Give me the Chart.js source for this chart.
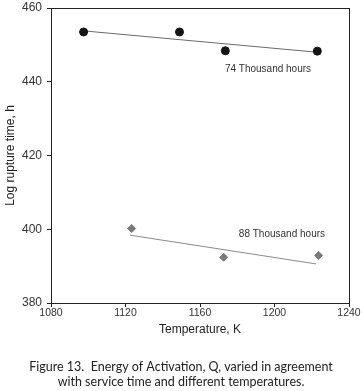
<!DOCTYPE html>
<html>
<head>
<meta charset="utf-8">
<script src="https://cdn.jsdelivr.net/npm/chart.js@4/dist/chart.umd.min.js"></script>
<style>
  html, body { margin: 0; padding: 0; background: #fff; }
  #wrap { width: 364px; height: 391px; position: relative; }
</style>
</head>
<body>
<div id="wrap"><canvas id="chart"></canvas></div>
<script>
// values
const temps74 = [1097.5, 1149, 1173.6, 1223];
const logTime74 = [453.5, 453.5, 448.4, 448.3];
const fit74X = [1097.5, 1223];
const fit74Y = [453.8, 448.0];

const temps88 = [1123.3, 1172.7, 1223.7];
const logTime88 = [400.2, 392.4, 392.9];
const fit88X = [1122.4, 1222.3];
const fit88Y = [398.4, 390.6];

const seriesLabels = ['74 Thousand hours', '88 Thousand hours'];
const labelAnchorX = [1196.5, 1204];
const labelAnchorY = [443.5, 398.7];

const xTicks = [1080, 1120, 1160, 1200, 1240];
const yTicks = [380, 400, 420, 440, 460];

const captionLines = [
  'Figure 13.  Energy of Activation, Q, varied in agreement',
  'with service time and different temperatures.'
];

const FONT = 'Liberation Sans, Arial, sans-serif';

function pts(xs, ys) {
  return xs.map((x, i) => ({ x, y: ys[i] }));
}

const frameAndNotes = {
  id: 'frameAndNotes',
  beforeDatasetsDraw(chart) {
    const { ctx, chartArea: a } = chart;
    ctx.save();
    ctx.strokeStyle = '#222';
    ctx.lineWidth = 1;
    ctx.strokeRect(Math.round(a.left) + 0.5, Math.round(a.top) + 0.5,
      Math.round(a.right - a.left), Math.round(a.bottom - a.top));
    ctx.restore();
  },
  afterDraw(chart) {
    const { ctx, scales } = chart;
    ctx.save();
    ctx.fillStyle = '#333';
    ctx.font = '10px ' + FONT;
    ctx.textAlign = 'center';
    ctx.textBaseline = 'middle';
    seriesLabels.forEach((t, i) => {
      ctx.fillText(t, scales.x.getPixelForValue(labelAnchorX[i]), scales.y.getPixelForValue(labelAnchorY[i]));
    });
    ctx.font = '12.5px Lato, sans-serif';
    ctx.fillStyle = '#222';
    captionLines.forEach((t, i) => {
      ctx.fillText(t, 181, 367 + i * 15);
    });
    ctx.restore();
  }
};

new Chart(document.getElementById('chart'), {
  type: 'scatter',
  data: {
    datasets: [
      {
        label: seriesLabels[0],
        data: pts(temps74, logTime74),
        backgroundColor: '#151515',
        borderColor: '#151515',
        pointStyle: 'circle',
        pointRadius: 4
      },
      {
        label: 'fit 74',
        type: 'line',
        data: pts(fit74X, fit74Y),
        borderColor: '#6a6a6a',
        borderWidth: 1,
        pointRadius: 0,
        fill: false
      },
      {
        label: seriesLabels[1],
        data: pts(temps88, logTime88),
        backgroundColor: '#7a7a7a',
        borderColor: '#7a7a7a',
        pointStyle: 'rectRot',
        pointRadius: 4
      },
      {
        label: 'fit 88',
        type: 'line',
        data: pts(fit88X, fit88Y),
        borderColor: '#8a8a8a',
        borderWidth: 1,
        pointRadius: 0,
        fill: false
      }
    ]
  },
  options: {
    responsive: true,
    maintainAspectRatio: false,
    animation: false,
    layout: { padding: { left: 0, right: 15, top: 8, bottom: 50 } },
    plugins: {
      legend: { display: false },
      tooltip: { enabled: false }
    },
    scales: {
      x: {
        type: 'linear',
        min: xTicks[0],
        max: xTicks[xTicks.length - 1],
        afterBuildTicks(scale) { scale.ticks = xTicks.map(v => ({ value: v })); },
        afterFit(scale) { scale.height = 38; },
        grid: { drawOnChartArea: false, drawTicks: true, tickLength: 4, color: '#222' },
        border: { color: '#222' },
        ticks: {
          color: '#333', font: { family: FONT, size: 10.5 }, padding: 0, maxRotation: 0,
          callback: v => String(v)
        },
        title: { display: true, text: 'Temperature, K', color: '#222', font: { family: FONT, size: 12 } }
      },
      y: {
        type: 'linear',
        min: yTicks[0],
        max: yTicks[yTicks.length - 1],
        afterBuildTicks(scale) { scale.ticks = yTicks.map(v => ({ value: v })); },
        afterFit(scale) {
          scale.width = 51;
          scale.paddingTop = 0;
          scale.paddingBottom = 0;
        },
        grid: { drawOnChartArea: false, drawTicks: true, tickLength: 4, color: '#222' },
        border: { color: '#222' },
        ticks: { color: '#333', font: { family: FONT, size: 12 }, padding: 5, callback: v => String(v) },
        title: {
          display: true, text: 'Log rupture time, h', color: '#222',
          font: { family: FONT, size: 12 }, padding: { top: 3, bottom: 0 }
        }
      }
    }
  },
  plugins: [frameAndNotes]
});
</script>
</body>
</html>
